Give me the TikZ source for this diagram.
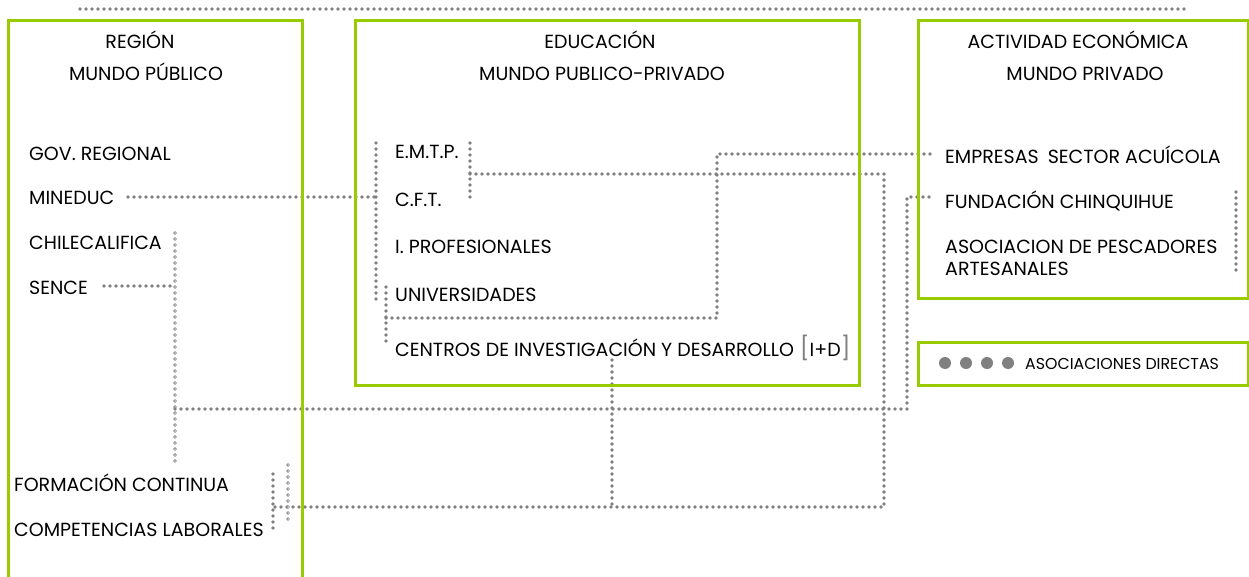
\documentclass[tikz,border=0pt]{standalone}
\usepackage{fontspec}
\setmainfont{Poppins}
\definecolor{lime}{HTML}{99CC00}
\definecolor{dotgray}{HTML}{808080}
\tikzset{
  box/.style={draw=lime, line width=3pt},
  dotline/.style={draw=dotgray, line width=3.6pt, line cap=round, dash pattern=on 0pt off 6pt},
  ringline/.style={draw=white, line width=1.5pt, line cap=round, dash pattern=on 0pt off 6pt,
     preaction={draw=dotgray, line width=3.8pt, line cap=round, dash pattern=on 0pt off 6pt}},
  lbl/.style={anchor=base west, inner sep=0pt, yshift=-1pt, font=\fontsize{19}{22}\selectfont},
  ttl/.style={anchor=base, inner sep=0pt, yshift=-1pt, font=\fontsize{19}{22}\selectfont},
  small/.style={anchor=base west, inner sep=0pt, font=\fontsize{15.8}{18}\selectfont},
  legdot/.style={circle, fill=dotgray, inner sep=0pt, minimum size=12pt}
}
\begin{document}
\begin{tikzpicture}[x=1pt,y=-1pt]
\useasboundingbox (0,0) rectangle (1249,577);
% ---- labels
\node[ttl] (reg) at (140,48) {REGIÓN};
\node[ttl] (regb) at (146,80) {MUNDO PÚBLICO};
\node[ttl] (edu) at (600,48) {EDUCACIÓN};
\node[ttl] (edub) at (602,80) {MUNDO PUBLICO-PRIVADO};
\node[ttl] (act) at (1078,48) {ACTIVIDAD ECONÓMICA};
\node[ttl] (actb) at (1085,80) {MUNDO PRIVADO};

\node[lbl] (gov) at (29,159.5) {GOV. REGIONAL};
\node[lbl] (mineduc) at (29,204) {MINEDUC};
\node[lbl] (chile) at (29,248) {CHILECALIFICA};
\node[lbl] (sence) at (29,293) {SENCE};
\node[lbl] (formacion) at (14,490) {FORMACIÓN CONTINUA};
\node[lbl] (compet) at (14,535) {COMPETENCIAS LABORALES};

\node[lbl] (emtp) at (395,158) {E.M.T.P.};
\node[lbl] (cft) at (395,206) {C.F.T.};
\node[lbl] (iprof) at (395,253) {I. PROFESIONALES};
\node[lbl] (univ) at (395,300) {UNIVERSIDADES};
\node[lbl] (centros) at (395,355) {CENTROS DE INVESTIGACIÓN Y DESARROLLO\hspace{6pt}{\color{dotgray}\fontsize{23}{23}\selectfont[}I+D{\color{dotgray}\fontsize{23}{23}\selectfont]}};

\node[lbl] (empresas) at (945,163) {EMPRESAS\hspace{4pt} SECTOR ACUÍCOLA};
\node[lbl] (fundacion) at (945,208) {FUNDACIÓN CHINQUIHUE};
\node[lbl] (asoc) at (945,253) {ASOCIACION DE PESCADORES};
\node[lbl] (artes) at (945,275) {ARTESANALES};

\node[legdot] (d1) at (945,363) {};
\node[legdot] (d2) at (966,363) {};
\node[legdot] (d3) at (987,363) {};
\node[legdot] (d4) at (1008,363) {};
\node[small] (legtxt) at (1025,369) {ASOCIACIONES DIRECTAS};

% ---- connector points
\coordinate (topL) at (80,9);
\coordinate (topR) at (1188,9);
\coordinate (minS) at (128,197);
\coordinate (eduT) at (376,143);
\coordinate (eduB) at (376,300);
\coordinate (uniT) at (386,287);
\coordinate (uniB) at (386,345);
\coordinate (uniJ) at (386,318);
\coordinate (uniR) at (717,318);
\coordinate (empC) at (717,154);
\coordinate (empE) at (932,154);
\coordinate (emT) at (470,143);
\coordinate (emB) at (470,201);
\coordinate (emJ) at (470,174);
\coordinate (emR) at (884,174);
\coordinate (botR) at (884,507);
\coordinate (botL) at (273,507);
\coordinate (cenT) at (612,360);
\coordinate (cenB) at (612,507);
\coordinate (fcT) at (273,474);
\coordinate (fcB) at (273,532);
\coordinate (rgT) at (288,465);
\coordinate (rgB) at (288,522);
\coordinate (senS) at (104,286);
\coordinate (senJ) at (175,286);
\coordinate (chT) at (175,233);
\coordinate (chB) at (175,465);
\coordinate (midL) at (175,409);
\coordinate (midR) at (907,409);
\coordinate (funC) at (907,197);
\coordinate (funE) at (932,197);
\coordinate (rvT) at (1236,192);
\coordinate (rvB) at (1236,275);

% ---- connectors
\draw[dotline] (topL) -- (topR);
\draw[dotline] (minS) -- (minS -| eduT);
\draw[dotline] (eduT) -- (eduB);
\draw[dotline] (uniT) -- (uniB);
\draw[dotline] (uniJ) -- (uniR) -- (empC) -- (empE);
\draw[dotline] (emT) -- (emB);
\draw[dotline] (emJ) -- (emR) -- (botR) -- (botL);
\draw[dotline] (cenT) -- (cenB);
\draw[dotline] (fcT) -- (fcB);
\draw[ringline] (rgT) -- (rgB);
\draw[dotline] (senS) -- (senJ);
\draw[ringline] (chT) -- (chB);
\draw[dotline] (midL) -- (midR) -- (funC) -- (funE);
\draw[dotline] (rvT) -- (rvB);

% ---- boxes
\draw[box] (8,580) -- (8,21) -- (302,21) -- (302,580);
\draw[box] (355,21) rectangle (859,385);
\draw[box] (918,21) rectangle (1248,298);
\draw[box] (918,342) rectangle (1248,385);
\end{tikzpicture}
\end{document}
